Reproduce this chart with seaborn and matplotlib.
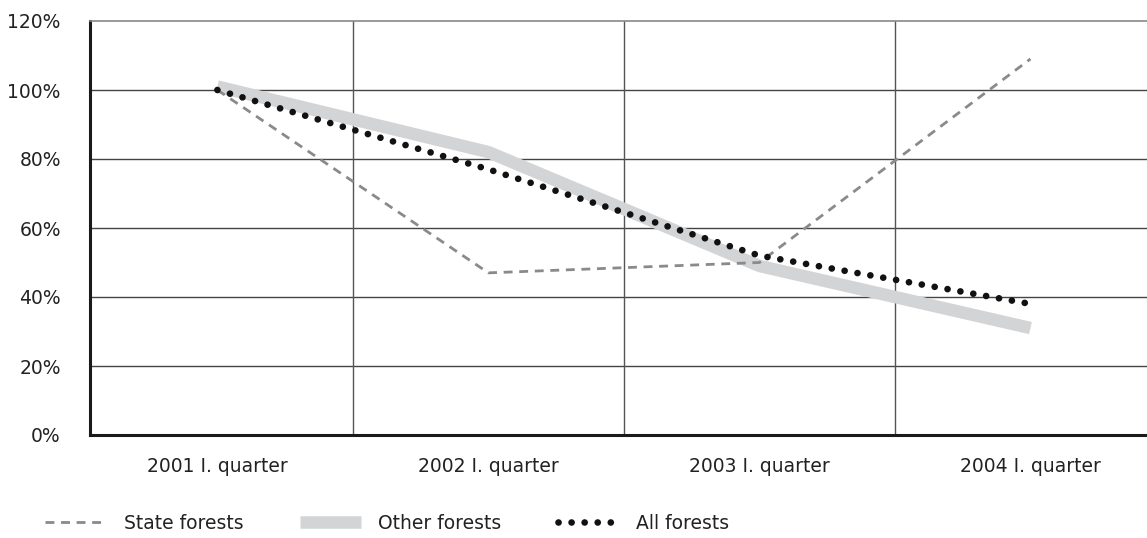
import matplotlib
matplotlib.use("Agg")
import matplotlib.pyplot as plt
import seaborn as sns
import pandas as pd

quarters = ["2001 I. quarter", "2002 I. quarter", "2003 I. quarter", "2004 I. quarter"]
state_forests = [100, 47, 50, 109]
other_forests = [101, 82, 49, 31]
all_forests = [100, 77, 52, 38]
y_ticks = [0, 20, 40, 60, 80, 100, 120]

df = pd.DataFrame({"quarter": quarters, "State forests": state_forests,
                   "Other forests": other_forests, "All forests": all_forests})

sns.set_style("white")
plt.rcParams["font.family"] = ["DejaVu Sans"]

fig = plt.figure(figsize=(11.47, 5.38), dpi=100)
ax = fig.add_axes([90 / 1147, 1 - 435 / 538, 1 - 90 / 1147, 414 / 538])

sns.lineplot(data=df, x="quarter", y="Other forests", ax=ax, color="#d3d4d6",
             linewidth=9, solid_capstyle="butt", label="Other forests", zorder=2)
sns.lineplot(data=df, x="quarter", y="State forests", ax=ax, color="#8a8a8a",
             linewidth=2.0, label="State forests", zorder=3)
sns.lineplot(data=df, x="quarter", y="All forests", ax=ax, color="#111111",
             linewidth=4.8, label="All forests", zorder=4)

ax.lines[1].set_dashes((3.2, 2.4))
ax.lines[2].set_linestyle((0, (0.01, 1.95)))
ax.lines[2].set_dash_capstyle("round")

ax.set_xlim(-0.47, 3.43)
ax.set_ylim(0, 120)
ax.set_yticks(y_ticks)
ax.set_yticklabels([f"{v}%" for v in y_ticks])
ax.set_xlabel("")
ax.set_ylabel("")

for v in y_ticks[1:-1]:
    ax.axhline(v, color="#444444", linewidth=1.0, zorder=1)
for xv in [0.5, 1.5, 2.5]:
    ax.axvline(xv, color="#555555", linewidth=1.0, zorder=1)

ax.spines["top"].set_color("#888888")
ax.spines["top"].set_linewidth(1.2)
ax.spines["right"].set_visible(False)
for side in ["left", "bottom"]:
    ax.spines[side].set_color("#1a1a1a")
    ax.spines[side].set_linewidth(2.2)

ax.tick_params(axis="both", length=0, labelsize=13.5, colors="#222222")
ax.tick_params(axis="y", pad=21)
ax.tick_params(axis="x", pad=16)

handles, labels = ax.get_legend_handles_labels()
order = [labels.index("State forests"), labels.index("Other forests"), labels.index("All forests")]
ax.legend([handles[i] for i in order], [labels[i] for i in order], ncol=3, frameon=False,
          loc="lower left", bbox_to_anchor=(28 / 1147, -0.022), bbox_transform=fig.transFigure,
          fontsize=13.5, handlelength=3.3, columnspacing=3.0, handletextpad=0.9,
          labelcolor="#222222")

fig.savefig("out.png", dpi=100)
